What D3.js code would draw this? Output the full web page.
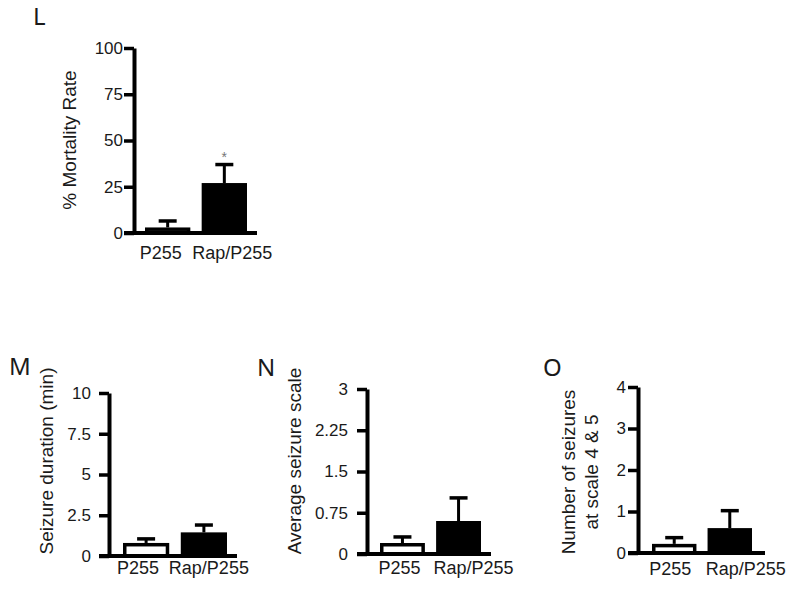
<!DOCTYPE html>
<html lang="en">
<head>
  <meta charset="UTF-8">
  <title>Mortality and seizures</title>
  <script src="https://d3js.org/d3.v7.min.js"></script>
  <style>
    body { margin: 0; background: #fff; }
    svg { display: block; font-family: "Liberation Sans", Arial, sans-serif; }
    .tick text { font-size: 17px; fill: #1a1a1a; }
    .tick line, .domain { stroke: #000; }
    .title { font-size: 19px; fill: #1a1a1a; }
    .group { font-size: 18px; fill: #1a1a1a; }
    .letter { font-family: "Noto Sans", sans-serif; font-size: 24px; fill: #1a1a1a; }
  </style>
</head>
<body>
  <svg width="800" height="594"></svg>

  <script>
    // values (mean, SEM)
    const groups = ["P255", "Rap/P255"];

    const mortality = [3, 27];
    const mortalitySem = [3.5, 10];
    const mortalityTicks = [0, 25, 50, 75, 100];

    const duration = [0.8, 1.45];
    const durationSem = [0.25, 0.45];
    const durationTicks = [0, 2.5, 5, 7.5, 10];

    const seizureScale = [0.2, 0.6];
    const seizureScaleSem = [0.11, 0.42];
    const seizureScaleTicks = [0, 0.75, 1.5, 2.25, 3];

    const highCount = [0.22, 0.6];
    const highCountSem = [0.15, 0.42];
    const highCountTicks = [0, 1, 2, 3, 4];

    const fills = ["#fff", "#000"];

    const svg = d3.select("svg");

    // layout of each small panel
    const panels = [
      { letter: "L", lx: 33, ly: 25, values: mortality, sem: mortalitySem, ticks: mortalityTicks,
        ax: 134, y0: 233, y1: 48, bx: [145, 247], xEnd: 257, pad: 1,
        labelDy: 26, shift: [-7, 8], title: ["% Mortality Rate"], tx: [76], ty: 140, star: 1 },
      { letter: "M", lx: 9, ly: 375, values: duration, sem: durationSem, ticks: durationTicks,
        ax: 109, y0: 556, y1: 393, bx: [123, 227], xEnd: 237, pad: 8,
        labelDy: 18, shift: [-8, 5], title: ["Seizure duration (min)"], tx: [53], ty: 461 },
      { letter: "N", lx: 257, ly: 376, values: seizureScale, sem: seizureScaleSem, ticks: seizureScaleTicks,
        ax: 367, y0: 554, y1: 389, bx: [380, 481], xEnd: 491, pad: 9,
        labelDy: 20, shift: [-3, 15], title: ["Average seizure scale"], tx: [301], ty: 461 },
      { letter: "O", lx: 543, ly: 376, values: highCount, sem: highCountSem, ticks: highCountTicks,
        ax: 638, y0: 553, y1: 387, bx: [652, 752], xEnd: 765, pad: 2,
        labelDy: 22, shift: [-4, 16], title: ["Number of seizures", "at scale 4 & 5"], tx: [575, 598], ty: 472 }
    ];

    panels.forEach(p => {
      const g = svg.append("g");
      const ticks = p.ticks;

      const y = d3.scaleLinear()
        .domain([0, ticks[ticks.length - 1]])
        .range([p.y0, p.y1]);

      const x = d3.scaleBand()
        .domain(groups)
        .range(p.bx)
        .paddingInner(0.2);

      const data = groups.map((name, i) => ({ name, i, v: p.values[i], e: p.sem[i] }));

      // bars
      const sw = 3.5;
      g.selectAll("rect")
        .data(data)
        .join("rect")
        .attr("x", d => x(d.name) + sw / 2)
        .attr("width", x.bandwidth() - sw)
        .attr("y", d => y(d.v) + sw / 2)
        .attr("height", d => p.y0 - y(d.v) - sw / 2)
        .attr("fill", d => fills[d.i])
        .attr("stroke", "#000")
        .attr("stroke-width", sw);

      // error bars (upper only)
      const cx = d => x(d.name) + x.bandwidth() / 2;
      g.selectAll("line.err")
        .data(data)
        .join("line")
        .attr("class", "err")
        .attr("x1", cx).attr("x2", cx)
        .attr("y1", d => y(d.v))
        .attr("y2", d => y(d.v + d.e))
        .attr("stroke", "#000")
        .attr("stroke-width", 3);
      g.selectAll("line.cap")
        .data(data)
        .join("line")
        .attr("class", "cap")
        .attr("x1", d => cx(d) - 9).attr("x2", d => cx(d) + 9)
        .attr("y1", d => y(d.v + d.e))
        .attr("y2", d => y(d.v + d.e))
        .attr("stroke", "#000")
        .attr("stroke-width", 3.5);

      if (p.star !== undefined) {
        const d = data[p.star];
        g.append("text")
          .attr("x", cx(d))
          .attr("y", y(d.v + d.e) - 3)
          .attr("text-anchor", "middle")
          .attr("font-size", 14)
          .attr("fill", "#777")
          .text("*");
      }

      // y axis
      const yAxis = g.append("g")
        .attr("transform", `translate(${p.ax},0)`)
        .call(d3.axisLeft(y).tickValues(ticks).tickSize(10).tickSizeOuter(0)
          .tickPadding(p.pad).tickFormat(d => d));
      yAxis.select(".domain").attr("stroke-width", 4);
      yAxis.selectAll(".tick line").attr("stroke-width", 3.5);

      // baseline
      g.append("line")
        .attr("x1", p.ax - 10).attr("x2", p.xEnd)
        .attr("y1", p.y0).attr("y2", p.y0)
        .attr("stroke", "#000")
        .attr("stroke-width", 4);

      // group labels
      g.selectAll("text.group")
        .data(data)
        .join("text")
        .attr("class", "group")
        .attr("x", d => cx(d) + p.shift[d.i])
        .attr("y", p.y0 + p.labelDy)
        .attr("text-anchor", "middle")
        .text(d => d.name);

      // axis title
      p.title.forEach((t, i) => {
        g.append("text")
          .attr("class", "title")
          .attr("transform", `translate(${p.tx[i]},${p.ty}) rotate(-90)`)
          .attr("text-anchor", "middle")
          .text(t);
      });

      // panel letter
      g.append("text")
        .attr("class", "letter")
        .attr("x", p.lx)
        .attr("y", p.ly)
        .text(p.letter);
    });
  </script>
</body>
</html>
